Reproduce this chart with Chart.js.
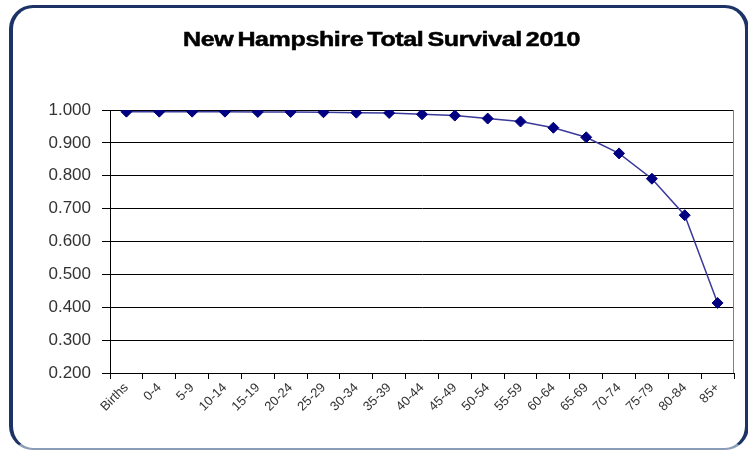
<!DOCTYPE html>
<html>
<head>
<meta charset="utf-8">
<title>New Hampshire Total Survival 2010</title>
<script src="https://cdn.jsdelivr.net/npm/chart.js@4/dist/chart.umd.min.js"></script>
<style>
  html, body { margin: 0; padding: 0; background: #ffffff; }
  #wrap { position: relative; width: 748px; height: 451px; overflow: hidden; }
  #frame {
    position: absolute; left: 9px; top: 5px; width: 740px; height: 445px;
    box-sizing: border-box; border: 4px solid #1d3365; border-top-width: 3px;
    border-bottom: 2px solid #8b9db6; border-radius: 24px; background: #ffffff;
  }
  #chart { position: absolute; left: 0; top: 0; }
</style>
</head>
<body>
<div id="wrap">
  <div id="frame"></div>
  <canvas id="chart" width="748" height="451"></canvas>
</div>
<script>
// Age groups along the x axis
const categories = ['Births', '0-4', '5-9', '10-14', '15-19', '20-24', '25-29', '30-34', '35-39',
  '40-44', '45-49', '50-54', '55-59', '60-64', '65-69', '70-74', '75-79', '80-84', '85+'];

// Total survival ratio per age group
const survival = [0.995, 0.995, 0.995, 0.995, 0.994, 0.994, 0.993, 0.992, 0.991,
  0.987, 0.983, 0.974, 0.965, 0.946, 0.917, 0.868, 0.791, 0.680, 0.413];

// Value axis ticks
const yTickValues = [0.2, 0.3, 0.4, 0.5, 0.6, 0.7, 0.8, 0.9, 1.0];

const chartTitle = 'New Hampshire Total Survival 2010';

// Title drawn in a heavy, widened face with tight word spacing
const titlePlugin = {
  id: 'wideTitle',
  afterDraw(chart) {
    const ctx = chart.ctx;
    ctx.save();
    ctx.font = 'bold 20px "Liberation Sans", Arial, sans-serif';
    if ('wordSpacing' in ctx) ctx.wordSpacing = '-2px';
    if ('letterSpacing' in ctx) ctx.letterSpacing = '-0.3px';
    const w = ctx.measureText(chartTitle).width;
    ctx.translate(381.5, 46);
    ctx.scale(397 / w, 1);
    ctx.textAlign = 'center';
    ctx.textBaseline = 'alphabetic';
    ctx.fillStyle = '#000000';
    ctx.strokeStyle = '#000000';
    ctx.lineWidth = 0.5;
    ctx.fillText(chartTitle, 0, 0);
    ctx.strokeText(chartTitle, 0, 0);
    ctx.restore();
  }
};

// Right-hand edge of the plot area
const plotEdgePlugin = {
  id: 'plotEdge',
  beforeDatasetsDraw(chart) {
    const { ctx, chartArea } = chart;
    ctx.save();
    ctx.strokeStyle = '#808080';
    ctx.lineWidth = 1;
    ctx.beginPath();
    ctx.moveTo(chartArea.right - 0.5, chartArea.top);
    ctx.lineTo(chartArea.right - 0.5, chartArea.bottom);
    ctx.stroke();
    ctx.restore();
  }
};

new Chart(document.getElementById('chart'), {
  type: 'line',
  data: {
    labels: categories,
    datasets: [{
      data: survival,
      borderColor: '#3a3a9a',
      borderWidth: 1.5,
      tension: 0,
      fill: false,
      pointStyle: 'rectRot',
      pointRadius: 5.5,
      pointBackgroundColor: '#000080',
      pointBorderColor: '#000080',
      pointBorderWidth: 1
    }]
  },
  options: {
    responsive: false,
    animation: false,
    devicePixelRatio: 1,
    layout: { padding: { left: 0, right: 14, top: 110, bottom: 0 } },
    plugins: {
      legend: { display: false },
      title: { display: false },
      tooltip: { enabled: false }
    },
    scales: {
      x: {
        type: 'category',
        offset: true,
        grid: { offset: true, drawOnChartArea: false, drawTicks: true, tickLength: 6, color: '#000000' },
        border: { color: '#000000', width: 1 },
        ticks: {
          autoSkip: false, maxRotation: 45, minRotation: 45, padding: 1,
          color: '#333333', font: { family: '"Liberation Sans", Arial, sans-serif', size: 13 }
        },
        afterFit(scale) { scale.height = 78; }
      },
      y: {
        min: 0.2,
        max: 1.0,
        afterBuildTicks(scale) { scale.ticks = yTickValues.map(v => ({ value: v })); },
        grid: { color: '#000000', lineWidth: 1, tickLength: 8 },
        border: { color: '#000000', width: 1 },
        ticks: {
          padding: 11,
          color: '#333333',
          font: { family: '"Liberation Sans", Arial, sans-serif', size: 17 },
          callback: v => Number(v).toFixed(3)
        },
        afterFit(scale) { scale.width = 110; }
      }
    }
  },
  plugins: [plotEdgePlugin, titlePlugin]
});
</script>
</body>
</html>
